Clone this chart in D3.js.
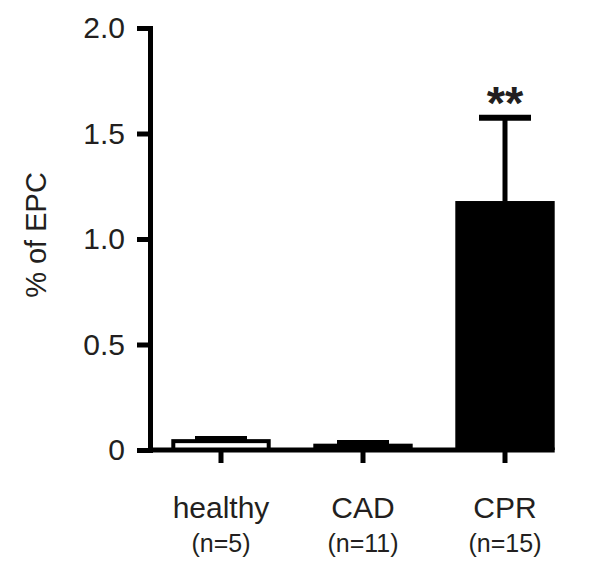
<!DOCTYPE html>
<html>
<head>
<meta charset="utf-8">
<script src="https://cdn.jsdelivr.net/npm/d3@7"></script>
<style>
  body { margin: 0; background: #fff; }
  text { font-family: "Liberation Sans", Arial, sans-serif; fill: #231f20; }
</style>
</head>
<body>
<div id="chart"></div>
<script>
const groups = ["healthy", "CAD", "CPR"];
const groupN = ["(n=5)", "(n=11)", "(n=15)"];
const means = [0.042, 0.03, 1.18];
const errors = [0.01, 0.003, 0.395];
const fills = ["#fff", "#000", "#000"];
const yTicks = [0, 0.5, 1.0, 1.5, 2.0];

const width = 600, height = 571;
const lw = 5;

const svg = d3.select("#chart").append("svg")
  .attr("width", width)
  .attr("height", height);

const y = d3.scaleLinear().domain([0, 2]).range([450, 28]);
const x = d3.scaleBand().domain(groups).range([150, 576])
  .paddingInner(0.3).paddingOuter(0.15);

// y axis
const yAxis = svg.append("g")
  .attr("transform", "translate(150,0)")
  .call(d3.axisLeft(y).tickValues(yTicks)
    .tickFormat(d => d === 0 ? "0" : d.toFixed(1))
    .tickSize(13).tickSizeOuter(0).tickPadding(12));
yAxis.select(".domain").attr("stroke", "#000").attr("stroke-width", lw)
  .attr("stroke-linecap", "square");
yAxis.selectAll(".tick line").attr("stroke", "#000").attr("stroke-width", lw);
yAxis.selectAll(".tick text").style("font-size", "30px")
  .attr("fill", "#231f20");

// bars
svg.selectAll("rect.bar")
  .data(groups)
  .enter()
  .append("rect")
  .attr("class", "bar")
  .attr("x", d => x(d) + (fills[groups.indexOf(d)] === "#fff" ? 2 : 0))
  .attr("width", d => x.bandwidth() - (fills[groups.indexOf(d)] === "#fff" ? 4 : 0))
  .attr("y", (d, i) => y(means[i]))
  .attr("height", (d, i) => y(0) - y(means[i]))
  .attr("fill", (d, i) => fills[i])
  .attr("stroke", (d, i) => fills[i] === "#fff" ? "#000" : "none")
  .attr("stroke-width", 4);

// error bars
const err = svg.selectAll("g.err")
  .data(groups)
  .enter()
  .append("g")
  .attr("class", "err");
err.append("line")
  .attr("x1", d => x(d) + x.bandwidth() / 2)
  .attr("x2", d => x(d) + x.bandwidth() / 2)
  .attr("y1", (d, i) => y(means[i]))
  .attr("y2", (d, i) => y(means[i] + errors[i]))
  .attr("stroke", "#000").attr("stroke-width", lw);
err.append("line")
  .attr("x1", d => x(d) + x.bandwidth() / 2 - 26)
  .attr("x2", d => x(d) + x.bandwidth() / 2 + 26)
  .attr("y1", (d, i) => y(means[i] + errors[i]))
  .attr("y2", (d, i) => y(means[i] + errors[i]))
  .attr("stroke", "#000").attr("stroke-width", 6);

// x axis
const xAxis = svg.append("g")
  .attr("transform", `translate(0,${y(0)})`)
  .call(d3.axisBottom(x).tickSize(13).tickSizeOuter(0).tickFormat(""));
xAxis.select(".domain").remove();
xAxis.selectAll(".tick line").attr("stroke", "#000").attr("stroke-width", lw);
xAxis.append("line")
  .attr("x1", 150)
  .attr("x2", x(groups[groups.length - 1]) + x.bandwidth())
  .attr("stroke", "#000").attr("stroke-width", lw);

// category labels
svg.selectAll("text.cat")
  .data(groups)
  .enter()
  .append("text")
  .attr("class", "cat")
  .attr("x", d => x(d) + x.bandwidth() / 2)
  .attr("y", 518)
  .attr("text-anchor", "middle")
  .style("font-size", "30px")
  .text(d => d);
svg.selectAll("text.n")
  .data(groupN)
  .enter()
  .append("text")
  .attr("class", "n")
  .attr("x", (d, i) => x(groups[i]) + x.bandwidth() / 2)
  .attr("y", 552)
  .attr("text-anchor", "middle")
  .style("font-size", "25px")
  .text(d => d);

// significance
svg.append("text")
  .attr("x", x("CPR") + x.bandwidth() / 2)
  .attr("y", 119)
  .attr("text-anchor", "middle")
  .style("font-size", "47px")
  .style("font-weight", "bold")
  .text("**");

// y label
svg.append("text")
  .attr("transform", "translate(46,235) rotate(-90)")
  .attr("text-anchor", "middle")
  .style("font-size", "29px")
  .text("% of EPC");
</script>
</body>
</html>
